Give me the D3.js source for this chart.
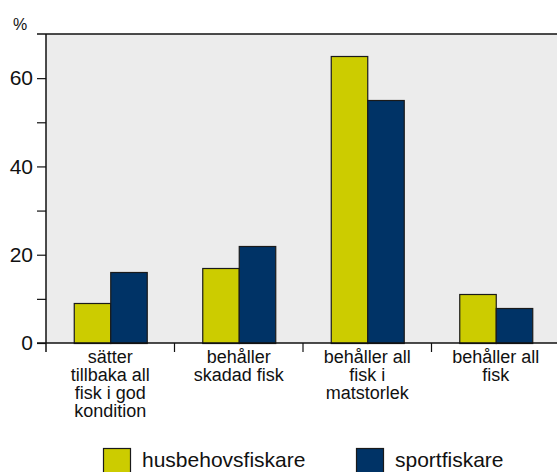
<!DOCTYPE html>
<html>
<head>
<meta charset="utf-8">
<script src="https://cdn.jsdelivr.net/npm/d3@7"></script>
<style>
  html, body { margin: 0; padding: 0; background: #fff; }
  svg { display: block; font-family: "Liberation Sans", Arial, Helvetica, sans-serif; }
</style>
</head>
<body>
<div id="chart"></div>
<script>
// chart data
const categories = [
  ['sätter', 'tillbaka all', 'fisk i god', 'kondition'],
  ['behåller', 'skadad fisk'],
  ['behåller all', 'fisk i', 'matstorlek'],
  ['behåller all', 'fisk']
];
const seriesNames = ['husbehovsfiskare', 'sportfiskare'];
const husbehov = [9, 17, 65, 11];
const sport = [16, 22, 55, 8];
const yTicks = [0, 20, 40, 60];
const yMinorTicks = [10, 30, 50];
const colors = ['#cccc00', '#003366'];

const W = 557, H = 472;
const plotL = 46, plotR = 560, plotT = 34, plotB = 343;

const svg = d3.select('#chart').append('svg')
  .attr('width', W).attr('height', H);

const keys = categories.map((c, i) => i);
const x = d3.scaleBand().domain(keys).range([plotL, plotR])
  .paddingInner(0.432).paddingOuter(0.216);
const xs = d3.scaleBand().domain(seriesNames).range([0, x.bandwidth()]);
const y = d3.scaleLinear().domain([0, 70]).range([plotB, plotT]);

// plot background
svg.append('rect')
  .attr('x', plotL).attr('y', plotT)
  .attr('width', W - plotL).attr('height', plotB - plotT)
  .attr('fill', '#ececec');

// bars
const rows = keys.map(i => ({ i, vals: [husbehov[i], sport[i]] }));
const groups = svg.selectAll('.grp').data(rows).enter().append('g')
  .attr('class', 'grp')
  .attr('transform', d => `translate(${x(d.i)},0)`);

groups.selectAll('rect')
  .data(d => d.vals.map((v, k) => ({ v, k })))
  .enter().append('rect')
  .attr('x', d => xs(seriesNames[d.k]) + 0.5)
  .attr('y', d => Math.round(y(d.v)) + 0.5)
  .attr('width', xs.bandwidth())
  .attr('height', d => plotB - Math.round(y(d.v)))
  .attr('fill', d => colors[d.k])
  .attr('stroke', '#1a1a1a')
  .attr('stroke-width', 1.2);

// y axis
const yAxis = d3.axisLeft(y).tickValues(yTicks).tickSize(9).tickPadding(4)
  .tickFormat(d3.format('d'));
const ya = svg.append('g').attr('transform', `translate(${plotL},0)`).call(yAxis);
ya.select('.domain').remove();
ya.selectAll('text').attr('font-size', 21).attr('fill', '#111')
  .attr('font-family', '"Liberation Sans", Arial, sans-serif');
ya.selectAll('line').attr('stroke', '#111').attr('stroke-width', 1.2);

svg.append('g').attr('transform', `translate(${plotL},0)`)
  .call(d3.axisLeft(y).tickValues(yMinorTicks).tickSize(9).tickFormat(''))
  .call(g => g.select('.domain').remove())
  .selectAll('line').attr('stroke', '#111').attr('stroke-width', 1.2);

// frame lines
svg.append('line').attr('x1', 37).attr('x2', W).attr('y1', plotT).attr('y2', plotT)
  .attr('stroke', '#111').attr('stroke-width', 1.5);
svg.append('line').attr('x1', 37).attr('x2', W).attr('y1', plotB).attr('y2', plotB)
  .attr('stroke', '#111').attr('stroke-width', 1.5);
svg.append('line').attr('x1', plotL).attr('x2', plotL).attr('y1', plotT).attr('y2', plotB + 9)
  .attr('stroke', '#111').attr('stroke-width', 1.5);

// category separators
const step = x.step();
svg.selectAll('.sep').data(keys.slice(1)).enter().append('line')
  .attr('x1', d => plotL + d * step).attr('x2', d => plotL + d * step)
  .attr('y1', plotB).attr('y2', plotB + 9)
  .attr('stroke', '#111').attr('stroke-width', 1.2);

// category labels
const lab = svg.selectAll('.cat').data(keys).enter().append('text')
  .attr('text-anchor', 'middle')
  .attr('font-size', 18).attr('fill', '#111');
lab.selectAll('tspan').data(d => categories[d].map(t => ({ t, d })))
  .enter().append('tspan')
  .attr('x', d => x(d.d) + x.bandwidth() / 2)
  .attr('y', (d, j) => 363 + j * 18)
  .text(d => d.t);

// unit
svg.append('text').attr('x', 13).attr('y', 30)
  .attr('font-size', 16).attr('fill', '#111').text('%');

// legend
const legX = [103, 356];
seriesNames.forEach((s, k) => {
  svg.append('rect').attr('x', legX[k] + 0.5).attr('y', 448.5)
    .attr('width', 27).attr('height', 26)
    .attr('fill', colors[k]).attr('stroke', '#1a1a1a').attr('stroke-width', 1.2);
  svg.append('text').attr('x', legX[k] + 39).attr('y', 467)
    .attr('font-size', 21).attr('fill', '#111').text(s);
});
</script>
</body>
</html>
